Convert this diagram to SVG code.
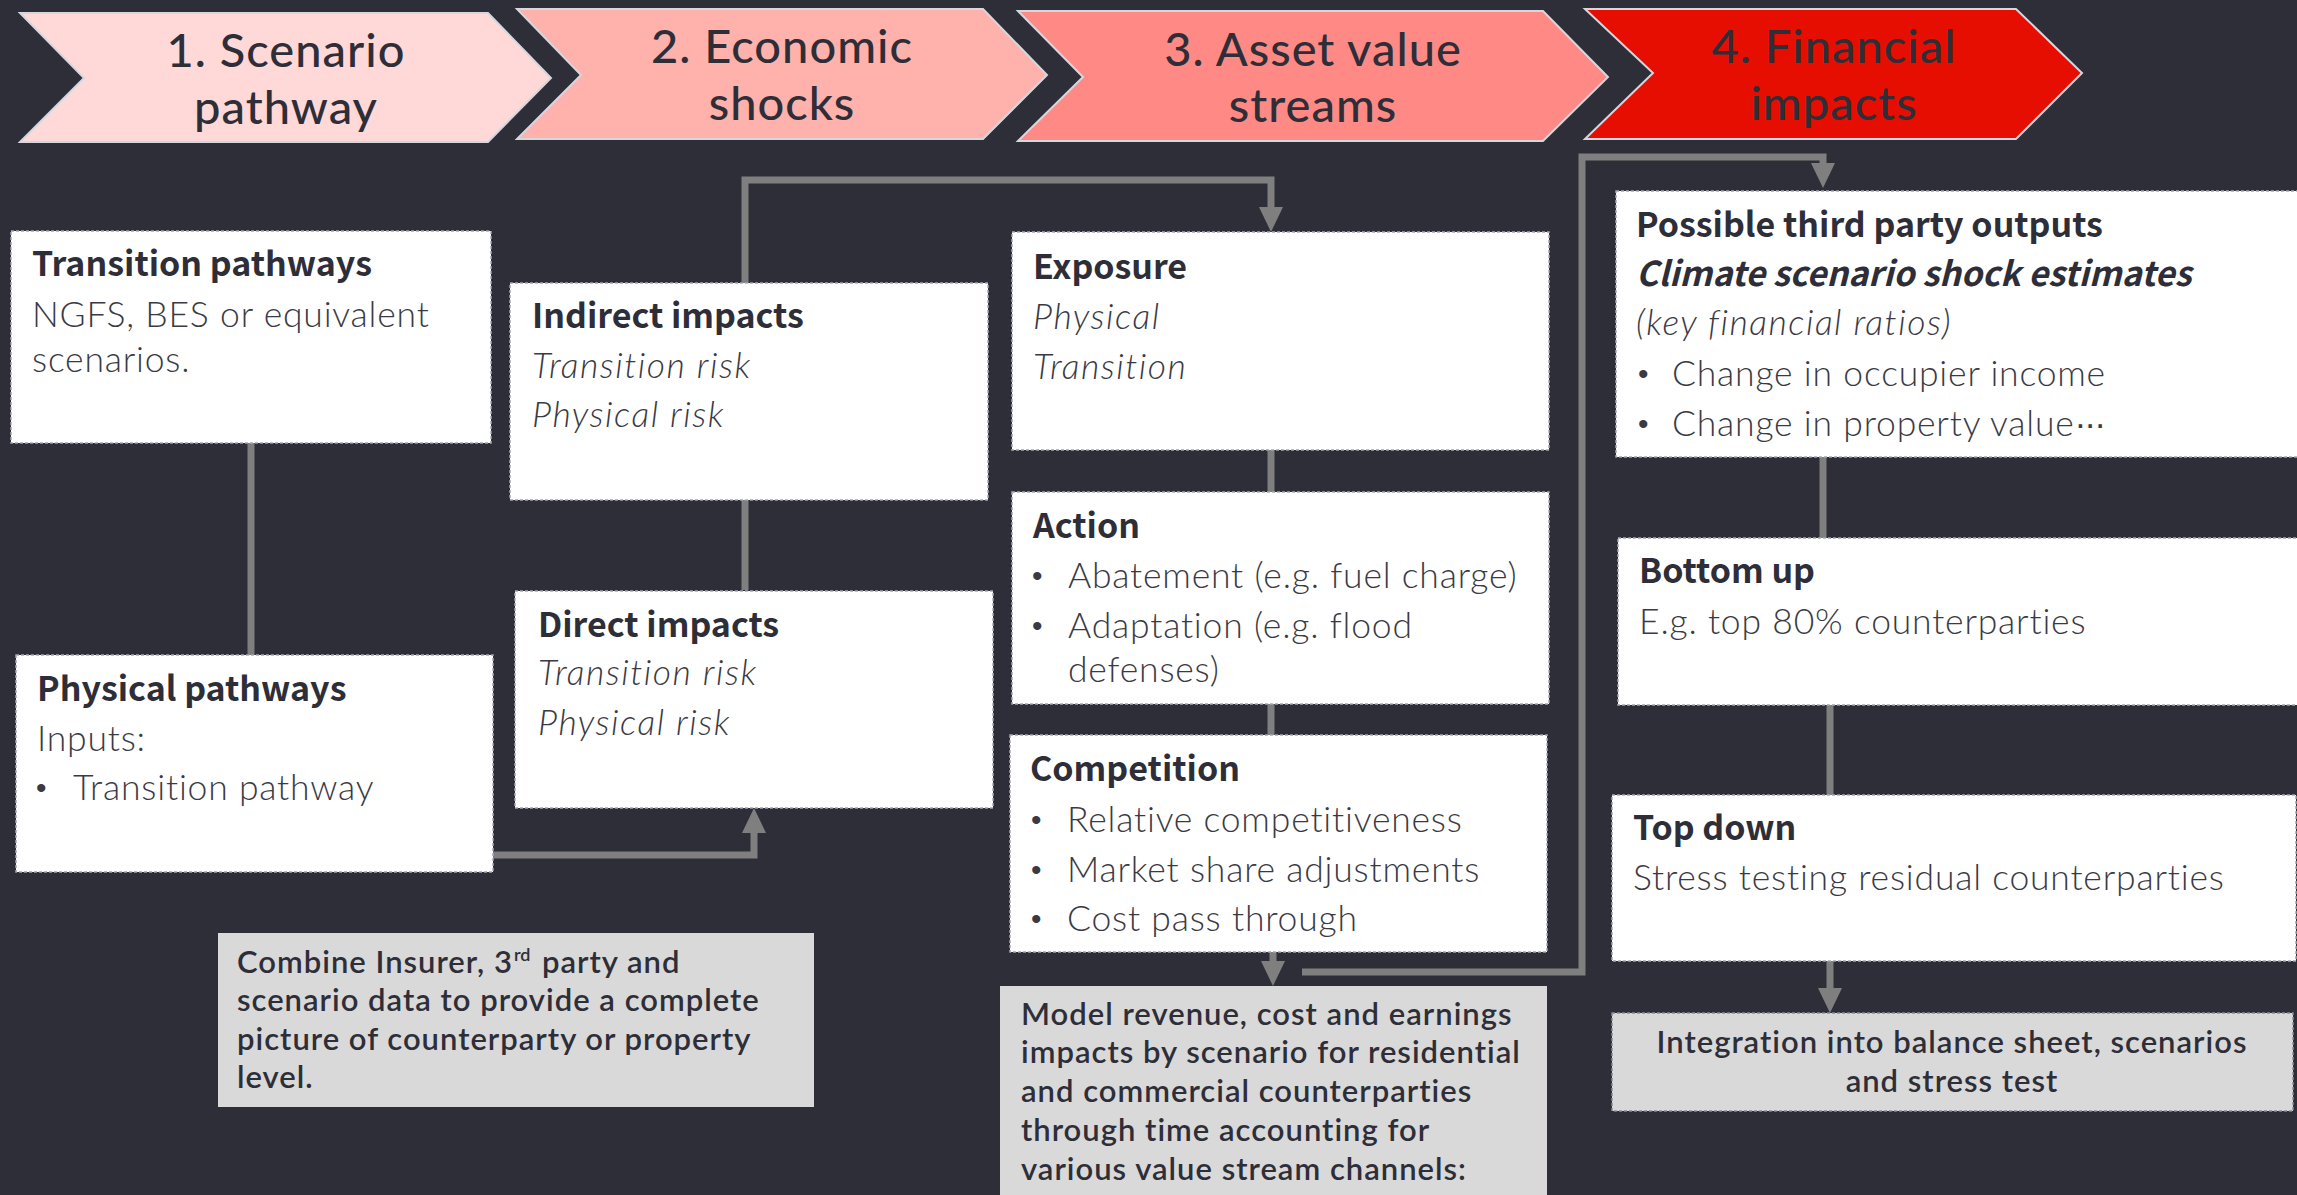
<svg xmlns="http://www.w3.org/2000/svg" width="2297" height="1195" viewBox="0 0 2297 1195">
  <style>
    .bg { fill: #2E2E38; }
    .chev { stroke: #D6D6DE; stroke-width: 2; }
    .chev-t { font-family: Lato, "Noto Sans", sans-serif; font-size: 47px; font-weight: 500; letter-spacing: 1px; fill: #2E2E38; text-anchor: middle; }
    .box { fill: #FFFFFF; stroke: #A6A6B4; stroke-width: 1.5; stroke-dasharray: 3 2; }
    .note { fill: #D9D9D9; }
    .note-b { fill: #D9D9D9; stroke: #8A8A9A; stroke-width: 1.5; stroke-dasharray: 3 2; }
    .ttl { font-family: "Noto Sans CJK SC", "Noto Sans", sans-serif; font-size: 34px; font-weight: 700; fill: #2E2E38; }
    .txt { font-family: Lato, "Noto Sans", sans-serif; font-size: 35.5px; font-weight: 300; letter-spacing: 0.8px; fill: #3A3A44; }
    .bul { font-family: "Liberation Sans", Arial, sans-serif; font-size: 30px; fill: #3A3A44; }
    .dots { font-family: "Liberation Sans", Arial, sans-serif; letter-spacing: -2px; }
    .it { font-style: italic; letter-spacing: 1.5px; }
    .ttl.it { letter-spacing: 0; }
    .nt { font-family: Lato, "Noto Sans", sans-serif; font-size: 31px; font-weight: 600; letter-spacing: 1px; fill: #2E2E38; }
    .sup { font-size: 18px; letter-spacing: 0; }
    .link { fill: none; stroke: #7F7F7F; stroke-width: 7; }
  </style>
  <defs>
    <marker id="arrow" markerUnits="userSpaceOnUse" markerWidth="26" markerHeight="24" refX="0" refY="12" orient="auto">
      <path d="M0,0 L25,12 L0,24 z" fill="#7F7F7F"/>
    </marker>
  </defs>

  <rect class="bg" x="0" y="0" width="2297" height="1195"/>

  <!-- stage chevrons -->
  <g id="stage-1">
    <polygon class="chev" fill="#FFD8D8" points="20,13 488,13 551,78 488,142 20,142 84,78"/>
    <text class="chev-t" x="286" y="67">1. Scenario</text>
    <text class="chev-t" x="286" y="124">pathway</text>
  </g>
  <g id="stage-2">
    <polygon class="chev" fill="#FFB1AB" points="517,9 983,9 1047,75 983,139 517,139 581,75"/>
    <text class="chev-t" x="782" y="63">2. Economic</text>
    <text class="chev-t" x="782" y="120">shocks</text>
  </g>
  <g id="stage-3">
    <polygon class="chev" fill="#FF8A85" points="1018,11 1543,11 1608,77 1543,141 1018,141 1083,77"/>
    <text class="chev-t" x="1313" y="66">3. Asset value</text>
    <text class="chev-t" x="1313" y="122">streams</text>
  </g>
  <g id="stage-4">
    <polygon class="chev" fill="#E60E00" points="1585,9 2016,9 2082,73 2016,139 1585,139 1653,73"/>
    <text class="chev-t" x="1834" y="63">4. Financial</text>
    <text class="chev-t" x="1834" y="120">impacts</text>
  </g>

  <!-- connectors -->
  <g id="connectors">
    <path class="link" d="M251,443 V655"/>
    <path class="link" d="M493,855 H754 V833" marker-end="url(#arrow)"/>
    <path class="link" d="M745,590 V500"/>
    <path class="link" d="M745,283 V180 H1271 V207" marker-end="url(#arrow)"/>
    <path class="link" d="M1271,450 V492"/>
    <path class="link" d="M1271,704 V735"/>
    <path class="link" d="M1273,952 V961" marker-end="url(#arrow)"/>
    <path class="link" d="M1302,972 H1582 V157 H1823 V163" marker-end="url(#arrow)"/>
    <path class="link" d="M1823,457 V538"/>
    <path class="link" d="M1830,705 V795"/>
    <path class="link" d="M1830,961 V988" marker-end="url(#arrow)"/>
  </g>

  <!-- column 1 -->
  <g id="transition-pathways">
    <rect class="box" x="11" y="231" width="480" height="212"/>
    <text class="ttl" x="32" y="276">Transition pathways</text>
    <text class="txt" x="32" y="327">NGFS, BES or equivalent</text>
    <text class="txt" x="32" y="372">scenarios.</text>
  </g>
  <g id="physical-pathways">
    <rect class="box" x="16" y="655" width="477" height="217"/>
    <text class="ttl" x="37" y="701">Physical pathways</text>
    <text class="txt" x="37" y="751">Inputs:</text>
    <text class="bul" x="36" y="798">•</text>
    <text class="txt" x="73" y="800">Transition pathway</text>
  </g>
  <g id="combine-note">
    <rect class="note" x="218" y="933" width="596" height="174"/>
    <text class="nt" x="237" y="973">Combine Insurer, 3</text>
    <text class="nt sup" x="514" y="961">rd</text>
    <text class="nt" x="542" y="973">party and</text>
    <text class="nt" x="237" y="1011">scenario data to provide a complete</text>
    <text class="nt" x="237" y="1050">picture of counterparty or property</text>
    <text class="nt" x="237" y="1088">level.</text>
  </g>

  <!-- column 2 -->
  <g id="indirect-impacts">
    <rect class="box" x="510" y="283" width="478" height="217"/>
    <text class="ttl" x="532" y="328">Indirect impacts</text>
    <text class="txt it" x="532" y="378">Transition risk</text>
    <text class="txt it" x="532" y="427">Physical risk</text>
  </g>
  <g id="direct-impacts">
    <rect class="box" x="515" y="591" width="478" height="217"/>
    <text class="ttl" x="538" y="637">Direct impacts</text>
    <text class="txt it" x="538" y="685">Transition risk</text>
    <text class="txt it" x="538" y="735">Physical risk</text>
  </g>

  <!-- column 3 -->
  <g id="exposure">
    <rect class="box" x="1012" y="232" width="537" height="218"/>
    <text class="ttl" x="1033" y="279">Exposure</text>
    <text class="txt it" x="1033" y="329">Physical</text>
    <text class="txt it" x="1033" y="379">Transition</text>
  </g>
  <g id="action">
    <rect class="box" x="1012" y="492" width="537" height="212"/>
    <text class="ttl" x="1033" y="538">Action</text>
    <text class="bul" x="1032" y="586">•</text>
    <text class="txt" x="1068" y="588">Abatement (e.g. fuel charge)</text>
    <text class="bul" x="1032" y="636">•</text>
    <text class="txt" x="1068" y="638">Adaptation (e.g. flood</text>
    <text class="txt" x="1068" y="682">defenses)</text>
  </g>
  <g id="competition">
    <rect class="box" x="1010" y="735" width="537" height="217"/>
    <text class="ttl" x="1030" y="781">Competition</text>
    <text class="bul" x="1031" y="830">•</text>
    <text class="txt" x="1067" y="832">Relative competitiveness</text>
    <text class="bul" x="1031" y="880">•</text>
    <text class="txt" x="1067" y="882">Market share adjustments</text>
    <text class="bul" x="1031" y="929">•</text>
    <text class="txt" x="1067" y="931">Cost pass through</text>
  </g>
  <g id="model-note">
    <rect class="note" x="1000" y="986" width="547" height="215"/>
    <text class="nt" x="1021" y="1025">Model revenue, cost and earnings</text>
    <text class="nt" x="1021" y="1063">impacts by scenario for residential</text>
    <text class="nt" x="1021" y="1102">and commercial counterparties</text>
    <text class="nt" x="1021" y="1141">through time accounting for</text>
    <text class="nt" x="1021" y="1180">various value stream channels:</text>
  </g>

  <!-- column 4 -->
  <g id="third-party-outputs">
    <rect class="box" x="1616" y="191" width="690" height="266"/>
    <text class="ttl" x="1636" y="237">Possible third party outputs</text>
    <text class="ttl it" x="1636" y="286">Climate scenario shock estimates</text>
    <text class="txt it" x="1636" y="335">(key financial ratios)</text>
    <text class="bul" x="1638" y="384">•</text>
    <text class="txt" x="1672" y="386">Change in occupier income</text>
    <text class="bul" x="1638" y="434">•</text>
    <text class="txt" x="1672" y="436">Change in property value<tspan class="dots">···</tspan></text>
  </g>
  <g id="bottom-up">
    <rect class="box" x="1618" y="538" width="690" height="167"/>
    <text class="ttl" x="1639" y="583">Bottom up</text>
    <text class="txt" x="1639" y="634">E.g. top 80% counterparties</text>
  </g>
  <g id="top-down">
    <rect class="box" x="1612" y="795" width="684" height="166"/>
    <text class="ttl" x="1633" y="840">Top down</text>
    <text class="txt" x="1633" y="890">Stress testing residual counterparties</text>
  </g>
  <g id="integration-note">
    <rect class="note-b" x="1612" y="1013" width="681" height="98"/>
    <text class="nt" x="1952" y="1053" text-anchor="middle">Integration into balance sheet, scenarios</text>
    <text class="nt" x="1952" y="1092" text-anchor="middle">and stress test</text>
  </g>
</svg>
